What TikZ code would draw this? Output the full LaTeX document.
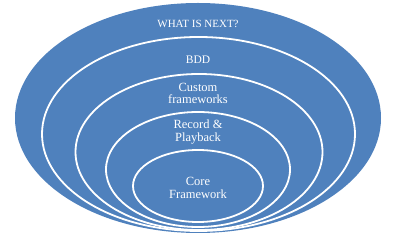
\documentclass[tikz,border=0pt]{standalone}
\usepackage{fontspec}
\setmainfont{Liberation Serif}
\usetikzlibrary{shapes.geometric}
\definecolor{ringblue}{HTML}{4F81BD}
\begin{document}
\begin{tikzpicture}[x=1pt,y=-1pt,
  ring/.style={ellipse, fill=ringblue, draw=white, line width=1.8pt, inner sep=0pt},
  lbl/.style={text=white, font=\fontsize{12.5}{12.8}\selectfont, align=center, inner sep=0pt}]
\useasboundingbox (0,0) rectangle (396,237);
\fill[white] (0,0) rectangle (396,237);
\node[ring, draw=none, minimum width=366pt, minimum height=230pt] (e1) at (198,118) {};
\node[ring, minimum width=313pt, minimum height=194pt] (e2) at (198.5,134) {};
\node[ring, minimum width=247pt, minimum height=156pt] (e3) at (199,152) {};
\node[ring, minimum width=184pt, minimum height=115pt] (e4) at (198,169.5) {};
\node[ring, minimum width=130pt, minimum height=72pt] (e5) at (198,186) {};
\node[lbl, font=\fontsize{11}{12.8}\selectfont] (t1) at (198,24) {WHAT\ IS NEXT?};
\node[lbl, font=\fontsize{11.5}{12.8}\selectfont] (t2) at (198,59.5) {BDD};
\node[lbl] (t3) at (198,93.5) {Custom\\frameworks};
\node[lbl] (t4) at (198,132) {Record \&\\Playback};
\node[lbl] (t5) at (198,188) {Core\\Framework};
\end{tikzpicture}
\end{document}
